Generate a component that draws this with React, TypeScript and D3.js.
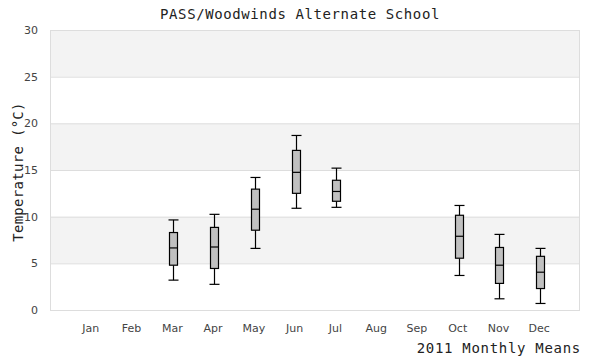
import React from "react";
import * as d3 from "d3";

const months = ["Jan", "Feb", "Mar", "Apr", "May", "Jun", "Jul", "Aug", "Sep", "Oct", "Nov", "Dec"];
const boxMonths = ["Mar", "Apr", "May", "Jun", "Jul", "Oct", "Nov", "Dec"];
const whiskerLow = [3.2, 2.75, 6.6, 10.9, 11.0, 3.7, 1.2, 0.7];
const q1 = [4.8, 4.45, 8.55, 12.5, 11.65, 5.55, 2.85, 2.3];
const median = [6.65, 6.75, 10.8, 14.75, 12.7, 7.9, 4.8, 4.05];
const q3 = [8.3, 8.85, 12.95, 17.1, 13.9, 10.15, 6.7, 5.75];
const whiskerHigh = [9.65, 10.25, 14.2, 18.7, 15.2, 11.2, 8.1, 6.6];
const yTicks = [0, 5, 10, 15, 20, 25, 30];

const W = 600, H = 360;
const L = 50, R = 580, T = 30, B = 310;

export default function App() {
  const x = d3.scaleLinear().domain([0, 13]).range([L, R]);
  const y = d3.scaleLinear().domain([0, 30]).range([B, T]);
  const xm = (m: string) => x(months.indexOf(m) + 1) + 1;
  const mono = "'DejaVu Sans Mono', monospace";
  const sans = "'DejaVu Sans', sans-serif";
  const bands = [0, 1, 2, 3, 4, 5].map((i) => ({ lo: i * 5, hi: i * 5 + 5, fill: i % 2 === 1 ? "#f3f3f3" : "#ffffff" }));
  const bw = 8, cw = 10;
  return (
    <svg width={W} height={H} style={{ position: "absolute", left: 0, top: 0, background: "#fff" }}>
      {bands.map((b, i) => (
        <rect key={i} x={L} y={y(b.hi)} width={R - L} height={y(b.lo) - y(b.hi)} fill={b.fill} />
      ))}
      {yTicks.map((t) => (
        <line key={t} x1={L} x2={R} y1={y(t) + 0.5} y2={y(t) + 0.5} stroke="#dddddd" strokeWidth={1} />
      ))}
      <rect x={L + 0.5} y={T + 0.5} width={R - L - 1} height={B - T} fill="none" stroke="#dddddd" />
      {yTicks.map((t) => (
        <text key={t} x={38} y={y(t) + 4} textAnchor="end" fontFamily={sans} fontSize={11} fill="#444">
          {t}
        </text>
      ))}
      {months.map((m, i) => (
        <text key={m} x={x(i + 1)} y={332} textAnchor="middle" fontFamily={sans} fontSize={11} fill="#444">
          {m}
        </text>
      ))}
      {boxMonths.map((m, i) => {
        const cx = Math.round(xm(m)) + 0.5;
        return (
          <g key={m} stroke="#000" strokeWidth={1.2}>
            <line x1={cx} x2={cx} y1={y(whiskerHigh[i])} y2={y(q3[i])} />
            <line x1={cx} x2={cx} y1={y(q1[i])} y2={y(whiskerLow[i])} />
            <line x1={cx - cw / 2} x2={cx + cw / 2} y1={y(whiskerHigh[i])} y2={y(whiskerHigh[i])} />
            <line x1={cx - cw / 2} x2={cx + cw / 2} y1={y(whiskerLow[i])} y2={y(whiskerLow[i])} />
            <rect x={cx - bw / 2} y={y(q3[i])} width={bw} height={y(q1[i]) - y(q3[i])} fill="#c0c0c0" />
            <line x1={cx - bw / 2} x2={cx + bw / 2} y1={y(median[i])} y2={y(median[i])} />
          </g>
        );
      })}
      <text x={300} y={19} textAnchor="middle" fontFamily={mono} fontSize={14} letterSpacing={0.6} fill="#222">
        PASS/Woodwinds Alternate School
      </text>
      <text x={581} y={353} textAnchor="end" fontFamily={mono} fontSize={14} letterSpacing={0.7} fill="#222">
        2011 Monthly Means
      </text>
      <text transform={`translate(23,${(T + B) / 2 + 2}) rotate(-90)`} textAnchor="middle" fontFamily={mono} fontSize={14} letterSpacing={0.3} fill="#222">
        Temperature (°C)
      </text>
    </svg>
  );
}
